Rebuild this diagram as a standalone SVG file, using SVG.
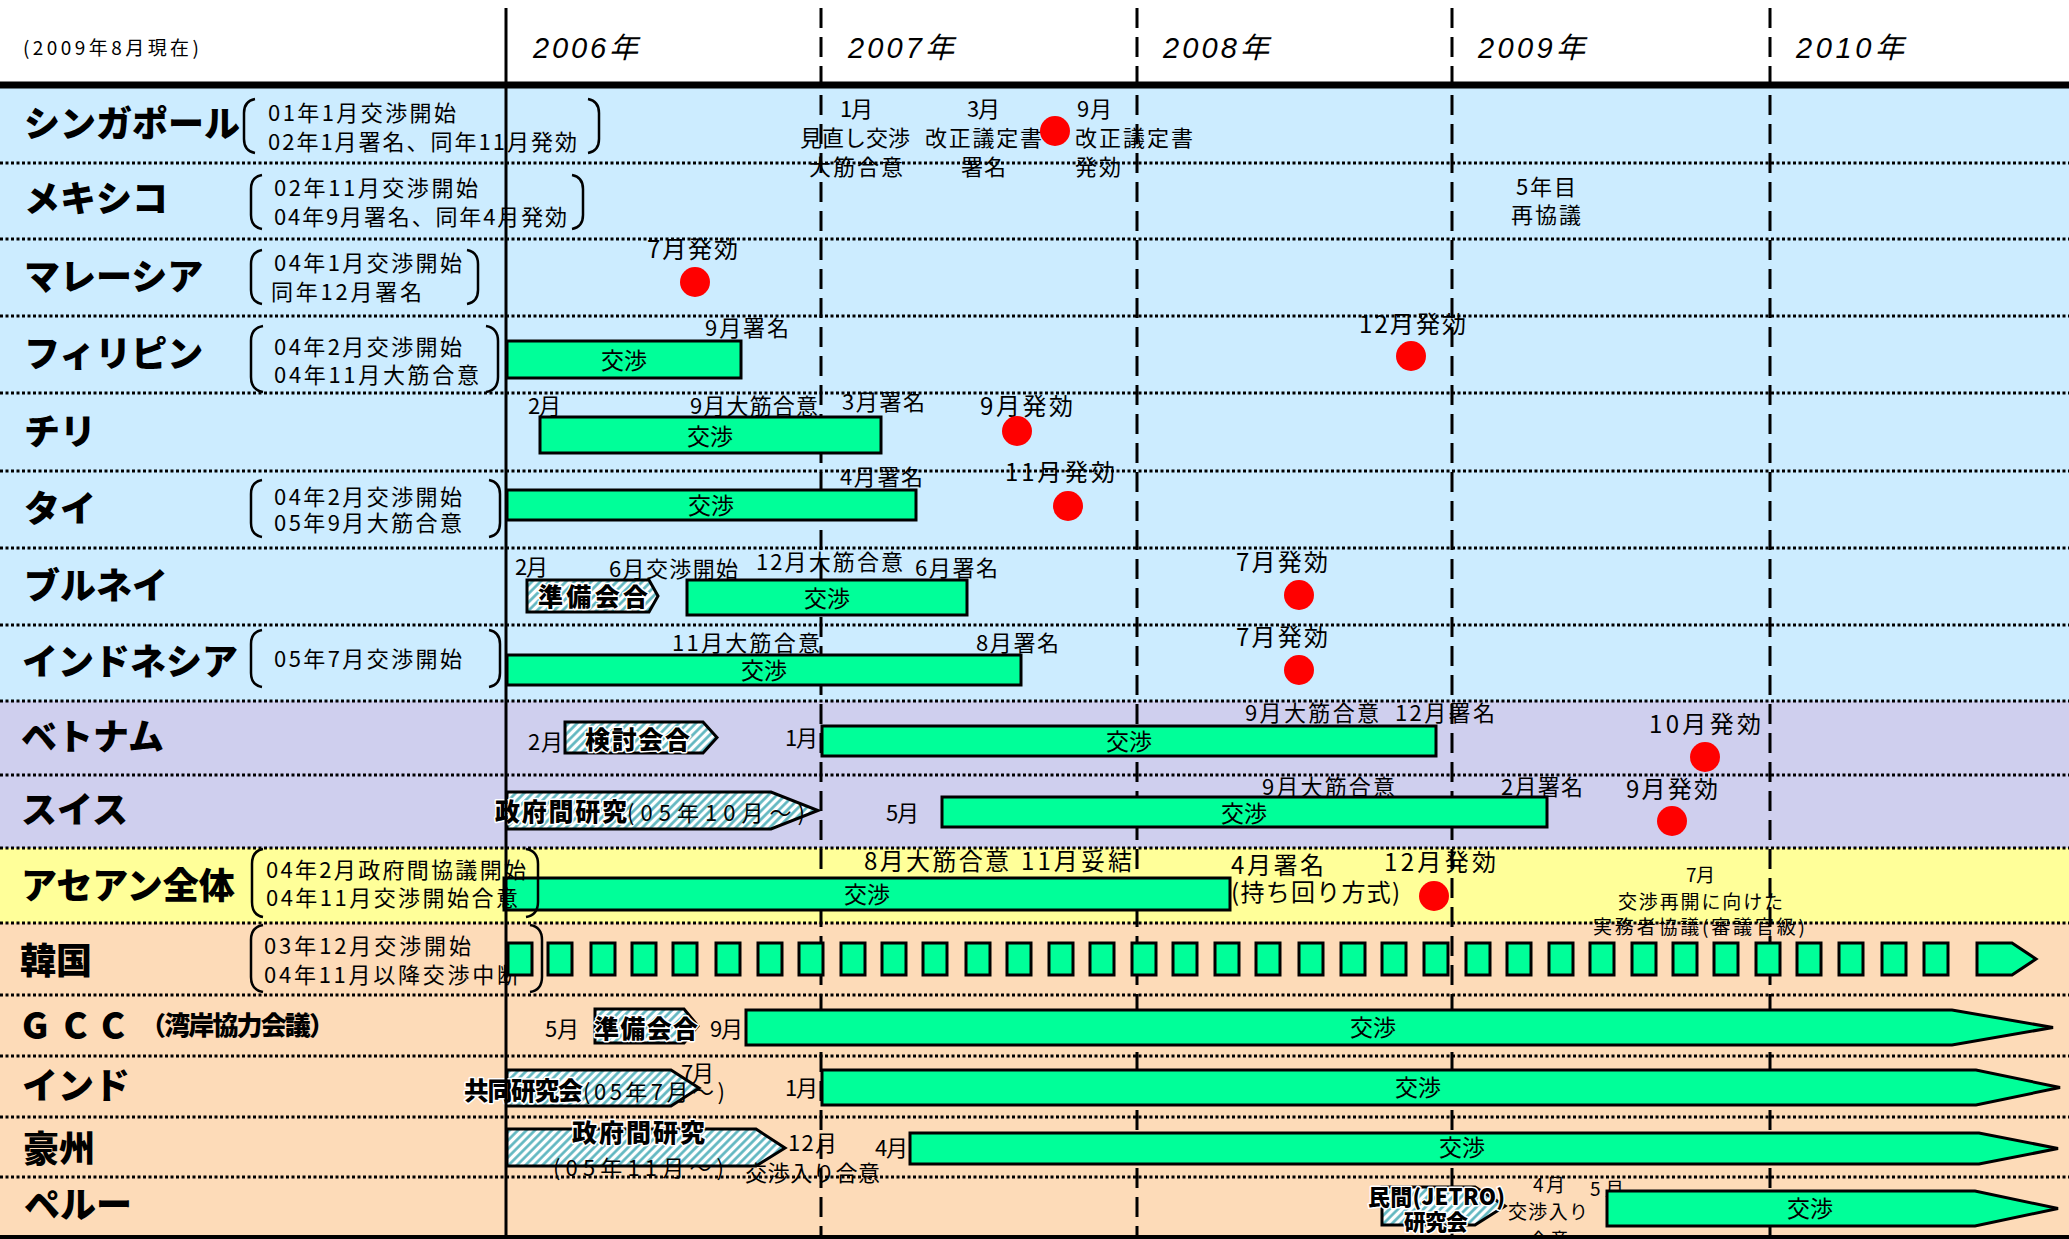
<svg xmlns="http://www.w3.org/2000/svg" width="2069" height="1239" viewBox="0 0 2069 1239">
<style>
text{font-family:"Noto Sans CJK JP","Noto Sans CJK SC",sans-serif;fill:#000}
.lbl{font-size:36px;font-weight:900}
.lbs{font-size:26px;font-weight:900}
.note{font-size:22px}
.a{font-size:22px}
.b{font-size:24px}
.s{font-size:19px}
.bl{font-size:25px;font-weight:900;stroke:#fff;stroke-width:3px;paint-order:stroke;stroke-linejoin:round}
.bm{font-size:22px;font-weight:900;stroke:#fff;stroke-width:3px;paint-order:stroke;stroke-linejoin:round}
.k{font-size:23px;text-anchor:middle}
.yr{font-family:"Liberation Sans","Noto Sans CJK JP",sans-serif;font-size:29px;font-style:italic}
.bar{fill:#00FF99;stroke:#000;stroke-width:3}
.hat{fill:url(#hatch);stroke:#000;stroke-width:3}
.dot{fill:#FF0000}
.brk{fill:none;stroke:#000;stroke-width:2.5}
.sep{stroke:#000;stroke-width:3;stroke-dasharray:3 2.5}
.vd{stroke:#000;stroke-width:3;stroke-dasharray:20 9}
</style>
<defs>
<pattern id="hatch" width="6" height="6" patternUnits="userSpaceOnUse" patternTransform="rotate(45)">
<rect width="6" height="6" fill="#fff"/>
<line x1="1.5" y1="0" x2="1.5" y2="6" stroke="#5AB4BE" stroke-width="2.6"/>
</pattern>
</defs>
<g id="background">
<rect x="0" y="0" width="2069" height="1239" fill="#fff"/>
<rect x="0" y="85" width="2069" height="616" fill="#CCECFF"/>
<rect x="0" y="701" width="2069" height="147" fill="#CFCFEE"/>
<rect x="0" y="848" width="2069" height="75" fill="#FFFF99"/>
<rect x="0" y="923" width="2069" height="314" fill="#FDDBB8"/>
</g>
<g id="grid">
<line class="sep" x1="0" y1="163" x2="2069" y2="163"/>
<line class="sep" x1="0" y1="239" x2="2069" y2="239"/>
<line class="sep" x1="0" y1="316" x2="2069" y2="316"/>
<line class="sep" x1="0" y1="393" x2="2069" y2="393"/>
<line class="sep" x1="0" y1="471" x2="2069" y2="471"/>
<line class="sep" x1="0" y1="548" x2="2069" y2="548"/>
<line class="sep" x1="0" y1="625" x2="2069" y2="625"/>
<line class="sep" x1="0" y1="701" x2="2069" y2="701"/>
<line class="sep" x1="0" y1="775" x2="2069" y2="775"/>
<line class="sep" x1="0" y1="848" x2="2069" y2="848"/>
<line class="sep" x1="0" y1="923" x2="2069" y2="923"/>
<line class="sep" x1="0" y1="995" x2="2069" y2="995"/>
<line class="sep" x1="0" y1="1056" x2="2069" y2="1056"/>
<line class="sep" x1="0" y1="1117" x2="2069" y2="1117"/>
<line class="sep" x1="0" y1="1177" x2="2069" y2="1177"/>
<line class="vd" x1="821" y1="8" x2="821" y2="1237"/>
<line class="vd" x1="1137" y1="8" x2="1137" y2="1237"/>
<line class="vd" x1="1452" y1="8" x2="1452" y2="1237"/>
<line class="vd" x1="1770" y1="8" x2="1770" y2="1237"/>
<rect x="0" y="81.5" width="2069" height="7" fill="#000"/>
<rect x="0" y="1235" width="2069" height="4" fill="#000"/>
</g>
<g id="header">
<text class="s" x="23" y="55" textLength="176">(2009年8月現在)</text>
<text class="yr" x="533" y="58" textLength="105">2006年</text>
<text class="yr" x="848" y="58" textLength="106">2007年</text>
<text class="yr" x="1163" y="58" textLength="106">2008年</text>
<text class="yr" x="1478" y="58" textLength="107">2009年</text>
<text class="yr" x="1796" y="58" textLength="108">2010年</text>
</g>
<g id="row-singapore">
<text class="lbl" x="24" y="137">シンガポール</text>
<path class="brk" d="M255 99 Q244 101 244 113 L244 139 Q244 151 255 153"/>
<path class="brk" d="M588 99 Q599 101 599 113 L599 139 Q599 151 588 153"/>
<text class="note" x="268" y="121" textLength="188">01年1月交渉開始</text>
<text class="note" x="268" y="150" textLength="309">02年1月署名、同年11月発効</text>
<text class="a" x="840" y="117" textLength="33">1月</text>
<text class="a" x="800" y="146" textLength="110">見直し交渉</text>
<text class="a" x="809" y="175" textLength="94">大筋合意</text>
<text class="a" x="967" y="117" textLength="33">3月</text>
<text class="a" x="925" y="146" textLength="117">改正議定書</text>
<text class="a" x="961" y="175" textLength="45">署名</text>
<circle class="dot" cx="1055" cy="131" r="15"/>
<text class="a" x="1077" y="117" textLength="35">9月</text>
<text class="a" x="1075" y="146" textLength="118">改正議定書</text>
<text class="a" x="1075" y="175" textLength="46">発効</text>
</g>
<g id="row-mexico">
<text class="lbl" x="24" y="212">メキシコ</text>
<path class="brk" d="M262 175 Q251 177 251 189 L251 215 Q251 227 262 229"/>
<path class="brk" d="M572 175 Q583 177 583 189 L583 215 Q583 227 572 229"/>
<text class="note" x="274" y="196" textLength="204">02年11月交渉開始</text>
<text class="note" x="274" y="225" textLength="293">04年9月署名、同年4月発効</text>
<text class="a" x="1516" y="195" textLength="60">5年目</text>
<text class="a" x="1511" y="223" textLength="70">再協議</text>
</g>
<g id="row-malaysia">
<text class="lbl" x="24" y="290">マレーシア</text>
<path class="brk" d="M262 250 Q251 252 251 264 L251 290 Q251 302 262 304"/>
<path class="brk" d="M467 250 Q478 252 478 264 L478 290 Q478 302 467 304"/>
<text class="note" x="274" y="271" textLength="188">04年1月交渉開始</text>
<text class="note" x="271" y="300" textLength="151">同年12月署名</text>
<text class="b" x="647" y="258" textLength="91">7月発効</text>
<circle class="dot" cx="695" cy="282" r="15"/>
</g>
<g id="row-philippines">
<text class="lbl" x="24" y="367">フィリピン</text>
<path class="brk" d="M263 326 Q251 328 251 341 L251 377 Q251 390 263 392"/>
<path class="brk" d="M486 326 Q498 328 498 341 L498 377 Q498 390 486 392"/>
<text class="note" x="274" y="355" textLength="188">04年2月交渉開始</text>
<text class="note" x="274" y="383" textLength="205">04年11月大筋合意</text>
<rect class="bar" x="507" y="341" width="234" height="37"/>
<text class="k" x="624" y="369">交渉</text>
<text class="a" x="705" y="336" textLength="84">9月署名</text>
<text class="b" x="1359" y="333" textLength="107">12月発効</text>
<circle class="dot" cx="1411" cy="356" r="15"/>
</g>
<g id="row-chile">
<text class="lbl" x="24" y="445">チリ</text>
<text class="a" x="528" y="414" textLength="33">2月</text>
<rect class="bar" x="540" y="417" width="341" height="36"/>
<text class="k" x="710" y="445">交渉</text>
<text class="a" x="690" y="414" textLength="128">9月大筋合意</text>
<text class="a" x="842" y="410" textLength="83">3月署名</text>
<text class="b" x="980" y="415" textLength="93">9月発効</text>
<circle class="dot" cx="1017" cy="431" r="15"/>
</g>
<g id="row-thailand">
<text class="lbl" x="24" y="522">タイ</text>
<path class="brk" d="M262 480 Q251 482 251 494 L251 523 Q251 535 262 537"/>
<path class="brk" d="M489 480 Q500 482 500 494 L500 523 Q500 535 489 537"/>
<text class="note" x="274" y="505" textLength="188">04年2月交渉開始</text>
<text class="note" x="274" y="531" textLength="188">05年9月大筋合意</text>
<rect class="bar" x="507" y="490" width="409" height="30"/>
<text class="k" x="711" y="514">交渉</text>
<text class="a" x="840" y="485" textLength="83">4月署名</text>
<text class="b" x="1005" y="481" textLength="110">11月発効</text>
<circle class="dot" cx="1068" cy="506" r="15"/>
</g>
<g id="row-brunei">
<text class="lbl" x="24" y="599">ブルネイ</text>
<text class="a" x="515" y="575" textLength="33">2月</text>
<text class="a" x="609" y="577" textLength="129">6月交渉開始</text>
<polygon class="hat" points="527,580 649,580 658,596 649,612 527,612"/>
<text class="bl" x="538" y="606" textLength="110">準備会合</text>
<rect class="bar" x="687" y="580" width="280" height="35"/>
<text class="k" x="827" y="607">交渉</text>
<text class="a" x="756" y="570" textLength="147">12月大筋合意</text>
<text class="a" x="915" y="576" textLength="83">6月署名</text>
<text class="b" x="1236" y="571" textLength="92">7月発効</text>
<circle class="dot" cx="1299" cy="595" r="15"/>
</g>
<g id="row-indonesia">
<text class="lbl" x="22" y="675">インドネシア</text>
<path class="brk" d="M262 630 Q251 632 251 644 L251 673 Q251 685 262 687"/>
<path class="brk" d="M489 630 Q500 632 500 644 L500 673 Q500 685 489 687"/>
<text class="note" x="274" y="667" textLength="188">05年7月交渉開始</text>
<rect class="bar" x="507" y="655" width="514" height="30"/>
<text class="k" x="764" y="679">交渉</text>
<text class="a" x="672" y="651" textLength="148">11月大筋合意</text>
<text class="a" x="976" y="651" textLength="83">8月署名</text>
<text class="b" x="1236" y="646" textLength="92">7月発効</text>
<circle class="dot" cx="1299" cy="670" r="15"/>
</g>
<g id="row-vietnam">
<text class="lbl" x="21" y="750">ベトナム</text>
<text class="a" x="528" y="750" textLength="35">2月</text>
<polygon class="hat" points="565,722 703,722 717,737.5 703,753 565,753"/>
<text class="bl" x="585" y="749" textLength="105">検討会合</text>
<text class="a" x="785" y="746" textLength="33">1月</text>
<rect class="bar" x="822" y="726" width="614" height="30"/>
<text class="k" x="1129" y="750">交渉</text>
<text class="a" x="1245" y="721" textLength="134">9月大筋合意</text>
<text class="a" x="1395" y="721" textLength="100">12月署名</text>
<text class="b" x="1649" y="733" textLength="112">10月発効</text>
<circle class="dot" cx="1705" cy="757" r="15"/>
</g>
<g id="row-switzerland">
<text class="lbl" x="21" y="823">スイス</text>
<polygon class="hat" points="507,792 771,792 818,810.5 771,829 507,829"/>
<text class="bl" x="495" y="821" textLength="132">政府間研究</text>
<text class="note" x="627" y="821" textLength="178">(05年10月～)</text>
<text class="a" x="886" y="821" textLength="33">5月</text>
<rect class="bar" x="942" y="797" width="605" height="30"/>
<text class="k" x="1244" y="822">交渉</text>
<text class="a" x="1262" y="795" textLength="133">9月大筋合意</text>
<text class="a" x="1501" y="795" textLength="82">2月署名</text>
<text class="b" x="1626" y="798" textLength="92">9月発効</text>
<circle class="dot" cx="1672" cy="821" r="15"/>
</g>
<g id="row-asean">
<text class="lbl" x="21" y="899">アセアン全体</text>
<rect class="bar" x="504" y="878" width="726" height="32"/>
<path class="brk" d="M263 849 Q252 851 252 864 L252 902 Q252 915 263 917"/>
<path class="brk" d="M526 849 Q538 851 538 864 L538 902 Q538 915 526 917"/>
<text class="note" x="266" y="878" textLength="260">04年2月政府間協議開始</text>
<text class="note" x="266" y="906" textLength="252">04年11月交渉開始合意</text>
<text class="k" x="867" y="903">交渉</text>
<text class="b" x="864" y="870" textLength="145">8月大筋合意</text>
<text class="b" x="1021" y="870" textLength="111">11月妥結</text>
<text class="b" x="1231" y="874" textLength="93">4月署名</text>
<text class="b" x="1231" y="901" textLength="169">(持ち回り方式)</text>
<text class="b" x="1384" y="871" textLength="112">12月発効</text>
<circle class="dot" cx="1434" cy="896" r="15"/>
<text class="s" x="1686" y="882" textLength="29">7月</text>
<text class="s" x="1618" y="909" textLength="165">交渉再開に向けた</text>
<text class="s" x="1593" y="934" textLength="212">実務者協議(審議官級)</text>
</g>
<g id="row-korea">
<text class="lbl" x="20" y="974">韓国</text>
<path class="brk" d="M263 925 Q251 927 251 940 L251 977 Q251 990 263 992"/>
<path class="brk" d="M530 925 Q542 927 542 940 L542 977 Q542 990 530 992"/>
<text class="note" x="264" y="954" textLength="207">03年12月交渉開始</text>
<text class="note" x="264" y="983" textLength="255">04年11月以降交渉中断</text>
<g class="bar">
<rect x="508" y="943" width="24" height="32"/><rect x="548" y="943" width="24" height="32"/><rect x="591" y="943" width="24" height="32"/><rect x="632" y="943" width="24" height="32"/><rect x="673" y="943" width="24" height="32"/><rect x="716" y="943" width="24" height="32"/><rect x="758" y="943" width="24" height="32"/><rect x="799" y="943" width="24" height="32"/><rect x="841" y="943" width="24" height="32"/><rect x="882" y="943" width="24" height="32"/><rect x="923" y="943" width="24" height="32"/><rect x="966" y="943" width="24" height="32"/><rect x="1007" y="943" width="24" height="32"/><rect x="1049" y="943" width="24" height="32"/><rect x="1090" y="943" width="24" height="32"/><rect x="1132" y="943" width="24" height="32"/><rect x="1173" y="943" width="24" height="32"/><rect x="1215" y="943" width="24" height="32"/><rect x="1256" y="943" width="24" height="32"/><rect x="1299" y="943" width="24" height="32"/><rect x="1341" y="943" width="24" height="32"/><rect x="1382" y="943" width="24" height="32"/><rect x="1424" y="943" width="24" height="32"/><rect x="1466" y="943" width="24" height="32"/><rect x="1507" y="943" width="24" height="32"/><rect x="1549" y="943" width="24" height="32"/><rect x="1590" y="943" width="24" height="32"/><rect x="1632" y="943" width="24" height="32"/><rect x="1673" y="943" width="24" height="32"/><rect x="1714" y="943" width="24" height="32"/><rect x="1756" y="943" width="24" height="32"/><rect x="1797" y="943" width="24" height="32"/><rect x="1839" y="943" width="24" height="32"/><rect x="1882" y="943" width="24" height="32"/><rect x="1924" y="943" width="24" height="32"/>
<polygon points="1977,943 2012,943 2036,959 2012,975 1977,975"/>
</g>
</g>
<g id="row-gcc">
<text class="lbl" x="22" y="1039" textLength="103">GCC</text>
<text class="lbs" x="140" y="1035" textLength="195">（湾岸協力会議）</text>
<text class="a" x="545" y="1037" textLength="34">5月</text>
<polygon class="hat" points="595,1009 684,1009 698,1026 684,1043 595,1043"/>
<text class="bl" x="594" y="1038" textLength="104">準備会合</text>
<text class="a" x="710" y="1037" textLength="33">9月</text>
<polygon class="bar" points="746,1010 1952,1010 2053,1027.5 1952,1045 746,1045"/>
<text class="k" x="1373" y="1036">交渉</text>
</g>
<g id="row-india">
<text class="lbl" x="22" y="1099">インド</text>
<polygon class="hat" points="507,1070 671,1070 699,1088 671,1106 507,1106"/>
<text class="bl" x="464" y="1100" textLength="119">共同研究会</text>
<text class="note" x="583" y="1100" textLength="142">(05年7月～)</text>
<text class="a" x="681" y="1081" textLength="33">7月</text>
<text class="a" x="785" y="1096" textLength="33">1月</text>
<polygon class="bar" points="822,1070 1976,1070 2060,1087.5 1976,1105 822,1105"/>
<text class="k" x="1418" y="1096">交渉</text>
</g>
<g id="row-australia">
<text class="lbl" x="23" y="1162">豪州</text>
<polygon class="hat" points="507,1129 756,1129 785,1148 756,1166 507,1166"/>
<text class="bl" x="572" y="1142" textLength="133">政府間研究</text>
<text class="note" x="553" y="1176" textLength="171">(05年11月～)</text>
<text class="a" x="788" y="1151" textLength="49">12月</text>
<text class="a" x="745" y="1181" textLength="135">交渉入り合意</text>
<text class="a" x="875" y="1156" textLength="33">4月</text>
<polygon class="bar" points="910,1133 1979,1133 2058,1148.5 1979,1164 910,1164"/>
<text class="k" x="1462" y="1156">交渉</text>
</g>
<g id="row-peru">
<text class="lbl" x="24" y="1218">ペルー</text>
<polygon class="hat" points="1382,1187 1475,1187 1505,1206 1475,1225 1382,1225"/>
<text class="bm" x="1368" y="1205" textLength="137">民間(JETRO)</text>
<text class="bm" x="1404" y="1230" textLength="64">研究会</text>
<text class="s" x="1533" y="1192" textLength="32">4月</text>
<text class="s" x="1590" y="1196" textLength="34">5月</text>
<text class="s" x="1508" y="1219" textLength="80">交渉入り</text>
<text class="s" x="1529" y="1247" textLength="40">合意</text>
<polygon class="bar" points="1607,1191 1975,1191 2058,1208.5 1975,1226 1607,1226"/>
<text class="k" x="1810" y="1217">交渉</text>
</g>
<g id="axis">
<line x1="506" y1="8" x2="506" y2="1239" stroke="#000" stroke-width="3"/>
<rect x="0" y="1235" width="2069" height="4" fill="#000"/>
</g>
</svg>
